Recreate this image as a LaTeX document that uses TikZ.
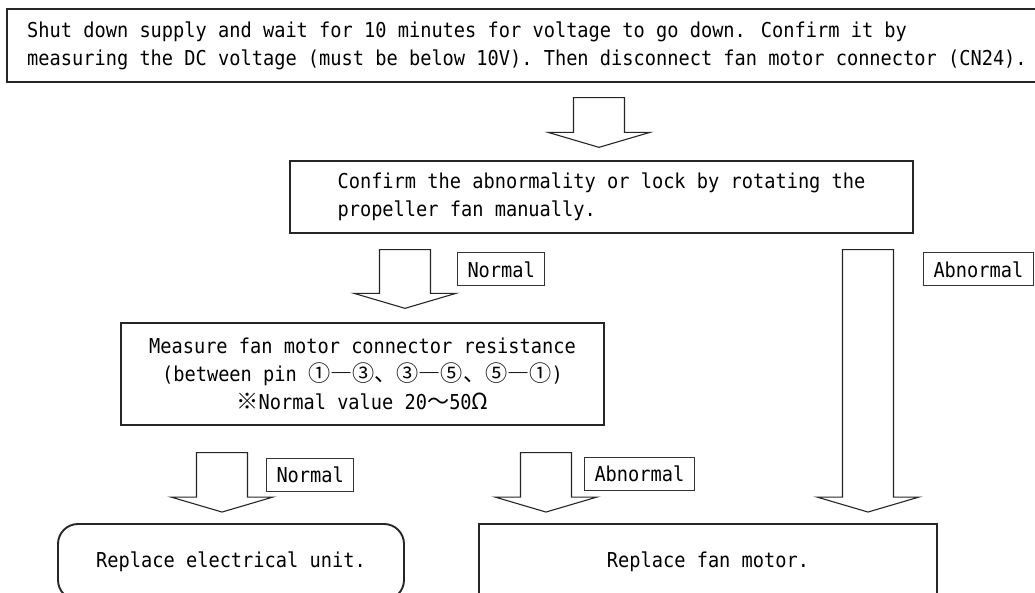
\documentclass[tikz,border=0pt]{standalone}
\usepackage{fontspec}
\setmainfont[FakeStretch=0.91]{DejaVu Sans Mono}
\newfontfamily\cjk[Scale=1.08]{Noto Sans CJK JP}
\usetikzlibrary{calc}
\tikzset{>=stealth}
\tikzset{
  stepbox/.style={draw=black!85, line width=1.3pt, inner sep=0pt},
  endbox/.style={stepbox, line width=1.9pt, minimum height=76pt},
  tag/.style={draw=black!80, line width=1pt, inner xsep=10pt, inner ysep=0pt, minimum height=33pt},
  blockarr/.style={draw=black!85, line width=1.1pt, fill=white, line join=miter}
}
% wide hollow arrow from tail (#1) to tip (#2)
\newcommand{\blockarrow}[2]{%
  \path (#1) coordinate (t) (#2) coordinate (h);
  \draw[blockarr] ($(t)+(-25.5,0)$) -- ($(t)+(25.5,0)$) -- ($(h)+(25.5,-15)$)
    -- ($(h)+(51,-15)$) -- (h) -- ($(h)+(-51,-15)$) -- ($(h)+(-25.5,-15)$) -- cycle;}

\begin{document}
\begin{tikzpicture}[x=1pt, y=-1pt, font=\fontsize{20.5}{28}\selectfont]
\useasboundingbox (0,0) rectangle (1035,593);

\node[stepbox, align=left, minimum width=1040pt, minimum height=73pt] (supply) at (527,45.5)
  {Shut down supply and wait for 10 minutes for voltage to go down. Confirm it by\\
   measuring the DC voltage (must be below 10V). Then disconnect fan motor connector (CN24).};
\node[stepbox, align=left, minimum width=623pt, minimum height=72pt] (confirm) at (601.5,197)
  {Confirm the abnormality or lock by rotating the\\propeller fan manually.};
\node[stepbox, align=center, minimum width=483pt, minimum height=102pt] (measure) at (362.5,374)
  {Measure fan motor connector resistance\\
   (between pin {\cjk ①―③、③―⑤、⑤―①})\\
   {\cjk ※}Normal value 20{\cjk ～}50{\cjk Ω}};
\node[endbox, rounded corners=20pt, minimum width=346pt] (unit) at (231,562) {Replace electrical unit.};
\node[endbox, minimum width=458pt] (motor) at (708,562) {Replace fan motor.};

% arrow positions
\coordinate (x1) at (599,0);
\coordinate (x2) at (405,0);
\coordinate (x3) at (222,0);
\coordinate (x4) at (546,0);
\coordinate (x5) at (868,0);

\blockarrow{$(supply.south -| x1)+(0,15)$}{$(confirm.north -| x1)+(0,-13)$}
\blockarrow{$(confirm.south -| x2)+(0,16)$}{$(measure.north -| x2)+(0,-14)$}
\blockarrow{$(confirm.south -| x5)+(0,16)$}{$(motor.north -| x5)+(0,-11)$}
\blockarrow{$(measure.south -| x3)+(0,27)$}{$(unit.north -| x3)+(0,-11)$}
\blockarrow{$(measure.south -| x4)+(0,27)$}{$(motor.north -| x4)+(0,-11)$}

\node[tag, anchor=west] (n1) at (457,269.5) {Normal};
\node[tag, anchor=west] (a1) at (923,269.5) {Abnormal};
\node[tag, anchor=west] (n2) at (266,474.5) {Normal};
\node[tag, anchor=west] (a2) at (584,474) {Abnormal};
\end{tikzpicture}
\end{document}
